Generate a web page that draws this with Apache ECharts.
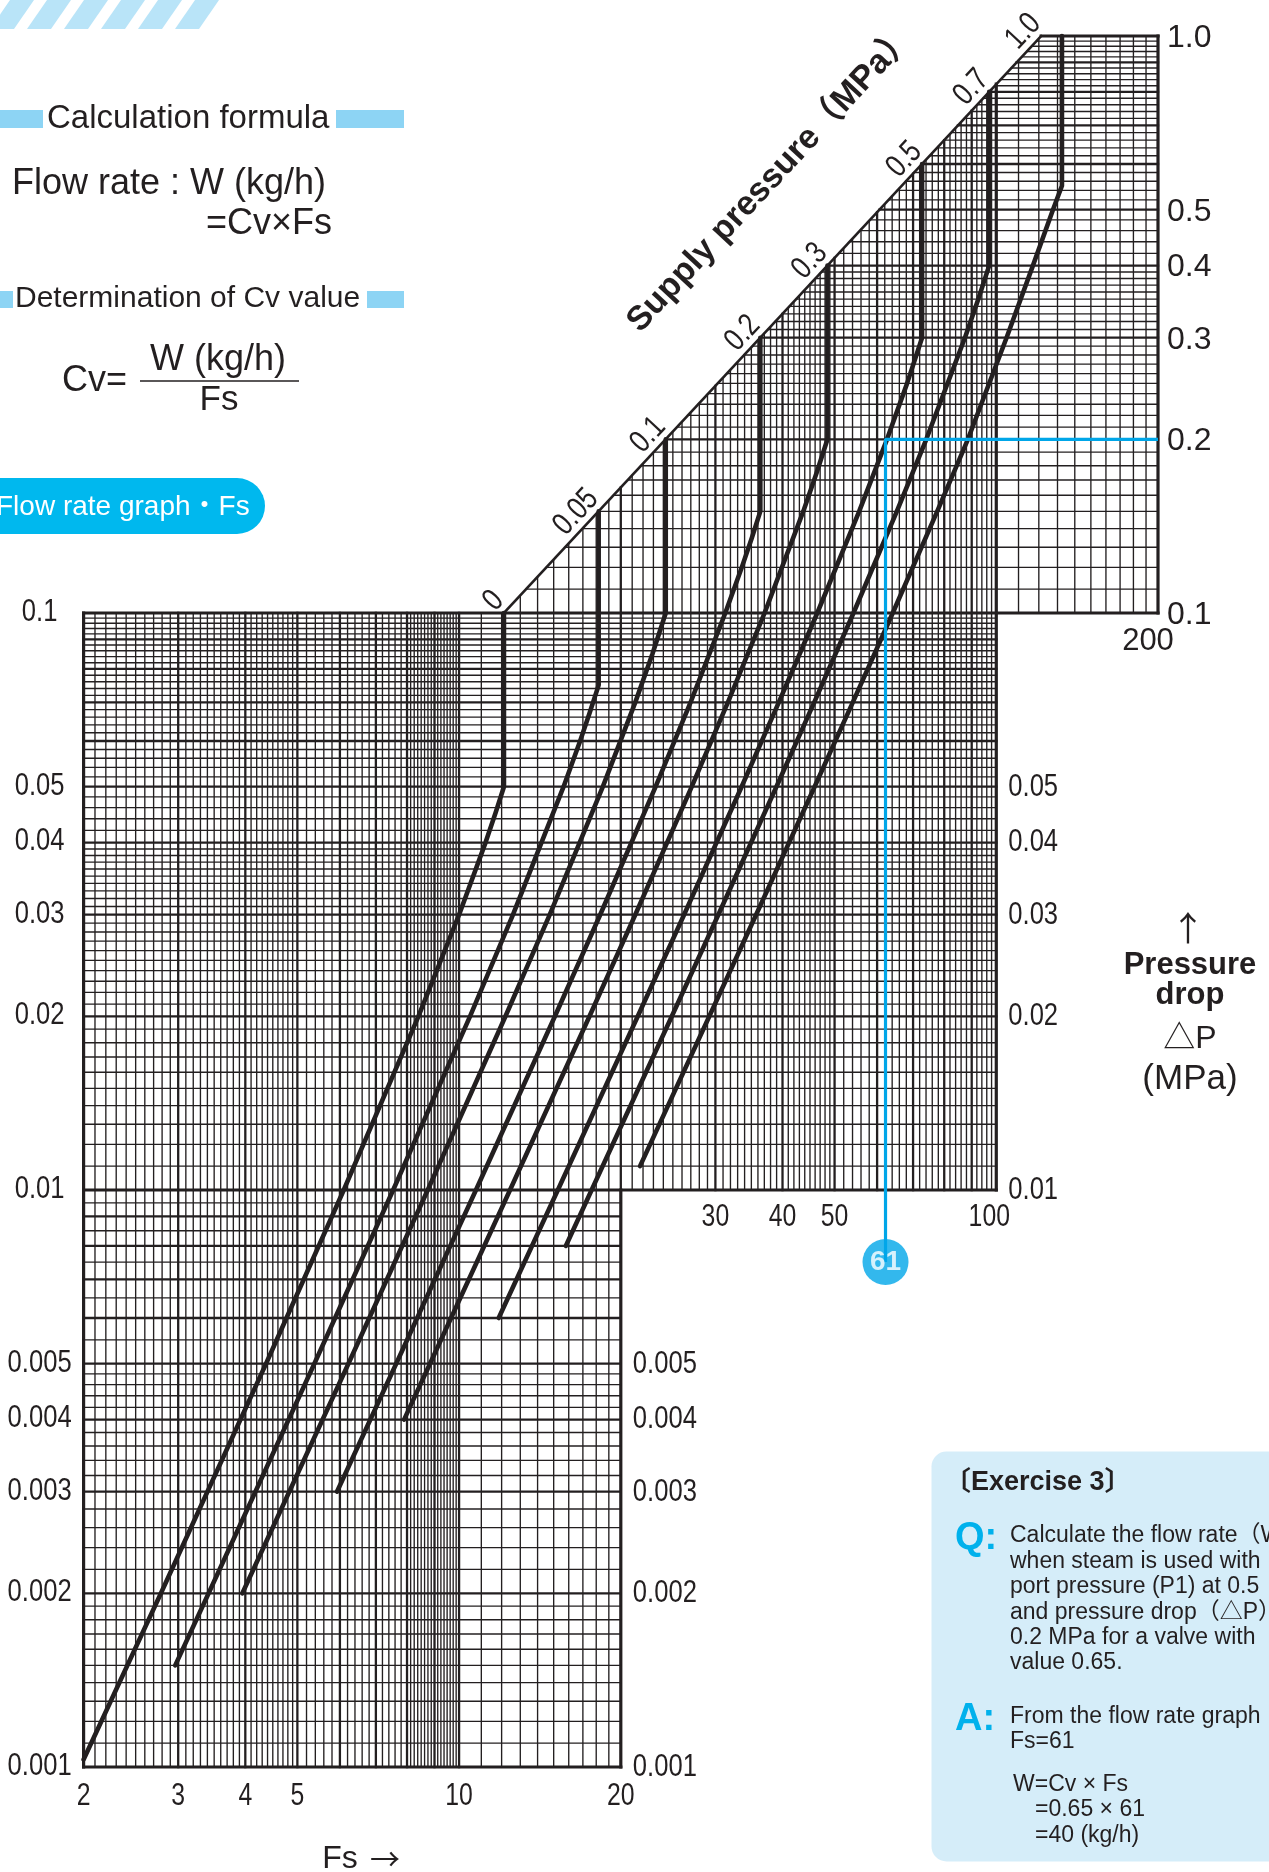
<!DOCTYPE html>
<html><head><meta charset="utf-8">
<script src="https://cdn.jsdelivr.net/npm/echarts@6/dist/echarts.min.js"></script>
<style>html,body{margin:0;padding:0;background:#fff;}#c{width:1269px;height:1872px;}</style>
</head><body><div id="c"></div>
<script>
// ---------------- data ----------------
const FS_MIN = 2, FS_MAX = 200, DP_MIN = 0.001, DP_MAX = 1;

const leftTickValues = [0.1,0.05,0.04,0.03,0.02,0.01,0.005,0.004,0.003,0.002,0.001];
const leftTickLabels = ['0.1','0.05','0.04','0.03','0.02','0.01','0.005','0.004','0.003','0.002','0.001'];
const midRightTickValues = [0.05,0.04,0.03,0.02,0.01];
const midRightTickLabels = ['0.05','0.04','0.03','0.02','0.01'];
const lowRightTickValues = [0.005,0.004,0.003,0.002,0.001];
const lowRightTickLabels = ['0.005','0.004','0.003','0.002','0.001'];
const upRightTickValues = [1,0.5,0.4,0.3,0.2,0.1];
const upRightTickLabels = ['1.0','0.5','0.4','0.3','0.2','0.1'];
const lowXTickValues = [2,3,4,5,10,20];
const lowXTickLabels = ['2','3','4','5','10','20'];
const midXTickValues = [30,40,50,100];
const midXTickLabels = ['30','40','50','100'];
const upXTickValues = [200];
const upXTickLabels = ['200'];

// log-paper rulings: [from, to, step]
const lowMidXRuling = [[2,5,0.1],[5,8,0.2],[8,10,0.125],[10,20,1]];
const midXRuling = [[20,50,1],[50,100,2]];
const upXRuling = [[100,200,10]];
const lowYRuling = [[0.001,0.002,0.0001],[0.002,0.005,0.0002],[0.005,0.01,0.0005]];
const midYRuling = [[0.01,0.04,0.001],[0.04,0.1,0.002]];
const upYRuling = [[0.1,0.4,0.01],[0.4,1,0.02]];

// supply pressure boundary (diagonal) and labels
const diagonal = [[12.12,0.1],[121.2,1.0]];
const supplyLabels = ['0','0.05','0.1','0.2','0.3','0.5','0.7','1.0'];
const supplyLabelFs = [12.12,18.19,24.25,36.37,48.5,72.75,97.0,121.2];
const supplyLabelDp = [0.1,0.15,0.2,0.3,0.4,0.6,0.8,1.0];

// curves [Fs, dP]
const curveP0   = [[2.0,0.00103],[2.786,0.002],[4.371,0.005],[6.10,0.01],[8.40,0.02],[10.0,0.03],[11.2,0.04],[11.69,0.045],[12.12,0.05],[12.12,0.1]];
const curveP005 = [[2.962,0.0015],[3.418,0.002],[5.377,0.005],[7.539,0.01],[10.48,0.02],[12.6,0.03],[15.65,0.05],[16.8,0.06],[17.49,0.067],[18.19,0.075],[18.19,0.15]];
const curveP01  = [[3.95,0.002],[6.222,0.005],[8.743,0.01],[12.2,0.02],[14.75,0.03],[18.52,0.05],[21.28,0.07],[22.91,0.085],[24.25,0.1],[24.25,0.2]];
const curveP02  = [[5.925,0.003],[7.636,0.005],[10.75,0.01],[15.08,0.02],[18.31,0.03],[23.22,0.05],[26.97,0.07],[31.3,0.1],[33.6,0.12],[35.08,0.135],[36.37,0.15],[36.37,0.3]];
const curveP03  = [[7.90,0.004],[8.827,0.005],[12.44,0.01],[17.49,0.02],[21.28,0.03],[27.11,0.05],[31.65,0.07],[37.04,0.1],[43.72,0.15],[46.3,0.175],[48.5,0.2],[48.5,0.4]];
const curveP05  = [[11.85,0.006],[15.27,0.01],[21.51,0.02],[26.23,0.03],[33.57,0.05],[39.37,0.07],[46.43,0.1],[55.56,0.15],[62.6,0.2],[68.23,0.25],[72.75,0.3],[72.75,0.6]];
const curveP07  = [[15.8,0.008],[17.65,0.01],[24.89,0.02],[30.38,0.03],[38.97,0.05],[45.82,0.07],[54.22,0.1],[65.29,0.15],[74.08,0.2],[87.43,0.3],[92.6,0.35],[97.0,0.4],[97.0,0.8]];
const curveP10  = [[21.72,0.011],[29.23,0.02],[35.72,0.03],[45.9,0.05],[54.06,0.07],[64.16,0.1],[77.63,0.15],[88.54,0.2],[104.5,0.3],[117.0,0.4],[127.5,0.5],[132.5,0.55],[132.5,1.0]];

// exercise read-off
const exampleFs = 62.2, exampleDp = 0.2, exampleMarkerDp = 0.0075, exampleLabel = '61';

// ---------------- style ----------------
const INK = '#231f20';
const BLUE = '#00a6e8';
const F_REG = "'Liberation Sans', Arial, 'Noto Sans CJK JP', sans-serif";
const F_CJK = "'Noto Sans CJK JP', sans-serif";
const NARROW = 0.8;
const W_MIN = 1.35, W_MAJ = 2.3, W_B = 3.2;

function expand(rul){ const v=[]; rul.forEach(([a,b,s])=>{ const n=Math.round((b-a)/s); for(let i=0;i<n;i++) v.push(+(a+i*s).toPrecision(8)); }); v.push(rul[rul.length-1][1]); return v; }
function isMajor(v){ const e=Math.floor(Math.log10(v)+1e-9); const m=v/Math.pow(10,e); return Math.abs(m-Math.round(m))<1e-6; }
const diagK = diagonal[1][0]/diagonal[1][1];
function diagTop(x){ return Math.min(DP_MAX, x/diagK); }

const segs = [];
function addSeg(x1,y1,x2,y2,w){ segs.push([x1,y1,x2,y2,w]); }
expand(lowMidXRuling).forEach(x=>{
  if (x===FS_MIN){ addSeg(x,DP_MIN,x,diagonal[0][1],W_B); return; }
  if (x===20){ addSeg(x,DP_MIN,x,0.01,W_B); addSeg(x,0.01,x,diagTop(x),W_MAJ); return; }
  addSeg(x,DP_MIN,x, x<=diagonal[0][0]?diagonal[0][1]:diagTop(x), isMajor(x)?W_MAJ:W_MIN);
});
expand(midXRuling).slice(1).forEach(x=> addSeg(x,0.01,x,diagTop(x), x===100?W_B:(isMajor(x)?W_MAJ:W_MIN)));
expand(upXRuling).slice(1).forEach(x=> addSeg(x,0.1,x,diagTop(x), x===FS_MAX?W_B:(isMajor(x)?W_MAJ:W_MIN)));
expand(lowYRuling).slice(0,-1).forEach(y=> addSeg(FS_MIN,y,20,y, y===DP_MIN?W_B:(isMajor(y)?W_MAJ:W_MIN)));
expand(midYRuling).slice(0,-1).forEach(y=> addSeg(FS_MIN,y,100,y, y===0.01?W_B:(isMajor(y)?W_MAJ:W_MIN)));
expand(upYRuling).forEach(y=>{
  if (y===0.1) addSeg(FS_MIN,y,FS_MAX,y,W_B);
  else addSeg(diagK*y,y,FS_MAX,y, y===DP_MAX?W_B:(isMajor(y)?W_MAJ:W_MIN));
});
addSeg(diagonal[0][0],diagonal[0][1],diagonal[1][0],diagonal[1][1],2.6);

function textSeries(points, labels, opt){
  return {type:'custom', coordinateSystem:'cartesian2d', silent:true, clip:false, z:6, animation:false, data:points,
    renderItem:(params, api)=>{ const i=params.dataIndex; const p=api.coord(points[i]);
      const dx = typeof opt.dx==='function'?opt.dx(i):opt.dx;
      return {type:'text', x:p[0]+dx, y:p[1]+opt.dy, scaleX:opt.sx||1, style:{text:labels[i], font:opt.font, fill:INK,
        align:opt.align, verticalAlign:'middle', textAlign:opt.align, textVerticalAlign:'middle'}}; }};
}

const curveSets = [curveP0,curveP005,curveP01,curveP02,curveP03,curveP05,curveP07,curveP10];
const series = [];
series.push({type:'custom', coordinateSystem:'cartesian2d', silent:true, clip:false, z:1, animation:false, data:segs,
  renderItem:(params, api)=>{ const s=segs[params.dataIndex]; const a=api.coord([s[0],s[1]]), b=api.coord([s[2],s[3]]);
    return {type:'line', shape:{x1:a[0],y1:a[1],x2:b[0],y2:b[1]}, style:{stroke:INK, lineWidth:s[4], lineCap:'square'}}; }});
curveSets.forEach(c=> series.push({type:'line', data:c, symbol:'none', showSymbol:false, silent:true, animation:false, clip:false, z:4,
  lineStyle:{color:INK, width:4.6, cap:'round', join:'round'}}));
series.push({type:'line', data:[[exampleFs,exampleMarkerDp],[exampleFs,exampleDp],[FS_MAX,exampleDp]], symbol:'none', silent:true, animation:false, clip:false, z:5,
  lineStyle:{color:BLUE, width:3.2}});
series.push({type:'scatter', data:[[exampleFs,exampleMarkerDp]], symbol:'circle', symbolSize:46, silent:true, animation:false, z:7,
  itemStyle:{color:BLUE}, label:{show:true, position:'inside', formatter:exampleLabel, color:'#fff', fontSize:28, fontWeight:'bold', fontFamily:"'Liberation Sans Narrow','Liberation Sans',sans-serif"}});

series.push(textSeries(leftTickValues.map(v=>[FS_MIN,v]), leftTickLabels, {dx:-44, dy:-1, align:'center', font:'32px '+F_REG, sx:NARROW}));
series.push(textSeries(midRightTickValues.map(v=>[100,v]), midRightTickLabels, {dx:12, dy:0, align:'left', font:'32px '+F_REG, sx:NARROW}));
series.push(textSeries(lowRightTickValues.map(v=>[20,v]), lowRightTickLabels, {dx:12, dy:0, align:'left', font:'32px '+F_REG, sx:NARROW}));
series.push(textSeries(upRightTickValues.map(v=>[FS_MAX,v]), upRightTickLabels, {dx:9, dy:2, align:'left', font:'32px '+F_REG}));
series.push(textSeries(lowXTickValues.map(v=>[v,DP_MIN]), lowXTickLabels, {dx:0, dy:29, align:'center', font:'31px '+F_REG, sx:NARROW}));
series.push(textSeries(midXTickValues.map(v=>[v,0.01]), midXTickLabels, {dx:(i)=>i===3?-7:0, dy:27, align:'center', font:'31px '+F_REG, sx:NARROW}));
series.push(textSeries(upXTickValues.map(v=>[v,0.1]), upXTickLabels, {dx:-10, dy:28, align:'center', font:'31px '+F_REG}));

const supplyPts = supplyLabelFs.map((f,i)=>[f,supplyLabelDp[i]]);
series.push({type:'custom', coordinateSystem:'cartesian2d', silent:true, clip:false, z:6, animation:false, data:supplyPts,
  renderItem:(params, api)=>{ const i=params.dataIndex; const p=api.coord(supplyPts[i]);
    const a=api.coord(diagonal[0]), b=api.coord(diagonal[1]);
    const ang=Math.atan2(a[1]-b[1], b[0]-a[0]); const ux=Math.cos(ang), uy=-Math.sin(ang);
    return {type:'text', x:p[0]+9*ux, y:p[1]+9*uy, rotation:ang, scaleX:NARROW,
      style:{text:supplyLabels[i], font:'32px '+F_REG, fill:INK, align:'right', verticalAlign:'bottom', textAlign:'right', textVerticalAlign:'bottom'}}; }});

// ---------------- annotations ----------------
function gText(x,y,text,font,o){ o=o||{}; return {type:'text', x:x, y:y, rotation:o.rotation||0, silent:true, z:10,
  style:{text:text, font:font, fill:o.fill||INK, align:o.align||'left', verticalAlign:o.va||'middle', textAlign:o.align||'left', textVerticalAlign:o.va||'middle'}}; }
const graphics = [];
[-10,27,64,101,138,175].forEach(bx=> graphics.push({type:'polygon', silent:true, shape:{points:[[bx,29],[bx+24,29],[bx+44,0],[bx+20,0]]}, style:{fill:'#b9e4f8'}}));
const BAR = '#8dd4f4';
graphics.push({type:'rect', silent:true, shape:{x:0,y:110,width:43,height:18}, style:{fill:BAR}});
graphics.push({type:'rect', silent:true, shape:{x:336,y:110,width:68,height:18}, style:{fill:BAR}});
graphics.push(gText(47,119,'Calculation formula','33px '+F_REG));
graphics.push(gText(12,184,'Flow rate : W (kg/h)','36px '+F_REG));
graphics.push(gText(332,224,'=Cv×Fs','36px '+F_REG,{align:'right'}));
graphics.push({type:'rect', silent:true, shape:{x:0,y:291,width:13,height:17}, style:{fill:BAR}});
graphics.push({type:'rect', silent:true, shape:{x:367,y:291,width:37,height:17}, style:{fill:BAR}});
graphics.push(gText(15,299,'Determination of Cv value','30px '+F_REG));
graphics.push(gText(62,381,'Cv=','36px '+F_REG));
graphics.push(gText(218,360,'W (kg/h)','36px '+F_REG,{align:'center'}));
graphics.push({type:'line', silent:true, shape:{x1:140,y1:381,x2:299,y2:381}, style:{stroke:INK,lineWidth:1.6}});
graphics.push(gText(219,400,'Fs','35px '+F_REG,{align:'center'}));
graphics.push({type:'rect', silent:true, shape:{x:-30,y:478,width:295,height:56,r:[0,28,28,0]}, style:{fill:'#00b8ee'}});
graphics.push(gText(-4,507,'Flow rate graph・Fs','28px '+F_REG,{fill:'#fff'}));
graphics.push(gText(771,179,'Supply pressure（MPa）','bold 34px '+F_REG,{align:'center', rotation:Math.atan2(577,537)}));
graphics.push(gText(1188,928,'↑','34px '+F_CJK,{align:'center'}));
graphics.push(gText(1190,965,'Pressure','bold 31px '+F_REG,{align:'center'}));
graphics.push(gText(1190,995,'drop','bold 31px '+F_REG,{align:'center'}));
graphics.push(gText(1190,1039,'△P','32px '+F_REG,{align:'center'}));
graphics.push(gText(1190,1079,'(MPa)','35px '+F_REG,{align:'center'}));
graphics.push(gText(340,1859,'Fs','32px '+F_REG,{align:'center'}));
graphics.push(gText(385,1859,'→','30px '+F_CJK,{align:'center'}));
// exercise box
graphics.push({type:'rect', silent:true, shape:{x:931.5,y:1451.5,width:420,height:410,r:15}, style:{fill:'#d5edf9'}});
graphics.push(gText(944,1483,'〔Exercise 3〕','bold 27px '+F_REG));
graphics.push(gText(955,1539,'Q:','bold 38px '+F_REG,{fill:'#00b1ec'}));
const qLines = ['Calculate the flow rate（W）','when steam is used with','port pressure (P1) at 0.5','and pressure drop（△P）','0.2 MPa for a valve with','value 0.65.'];
qLines.forEach((t,i)=> graphics.push(gText(1010,1536+i*25.4,t,'23px '+F_REG)));
graphics.push(gText(955,1720,'A:','bold 38px '+F_REG,{fill:'#00b1ec'}));
graphics.push(gText(1010,1717,'From the flow rate graph','23px '+F_REG));
graphics.push(gText(1010,1742,'Fs=61','23px '+F_REG));
graphics.push(gText(1013,1785,'W=Cv × Fs','23px '+F_REG));
graphics.push(gText(1035,1810,'=0.65 × 61','23px '+F_REG));
graphics.push(gText(1035,1836,'=40 (kg/h)','23px '+F_REG));

const chart = echarts.init(document.getElementById('c'), null, {renderer:'canvas'});
chart.setOption({
  backgroundColor:'#ffffff',
  animation:false,
  grid:{left:83.6, top:36, width:1074.4, height:1731, containLabel:false},
  xAxis:{type:'log', logBase:10, min:FS_MIN, max:FS_MAX, show:false, splitLine:{show:false}},
  yAxis:{type:'log', logBase:10, min:DP_MIN, max:DP_MAX, show:false, splitLine:{show:false}},
  series: series,
  graphic: graphics
});
</script></body></html>
